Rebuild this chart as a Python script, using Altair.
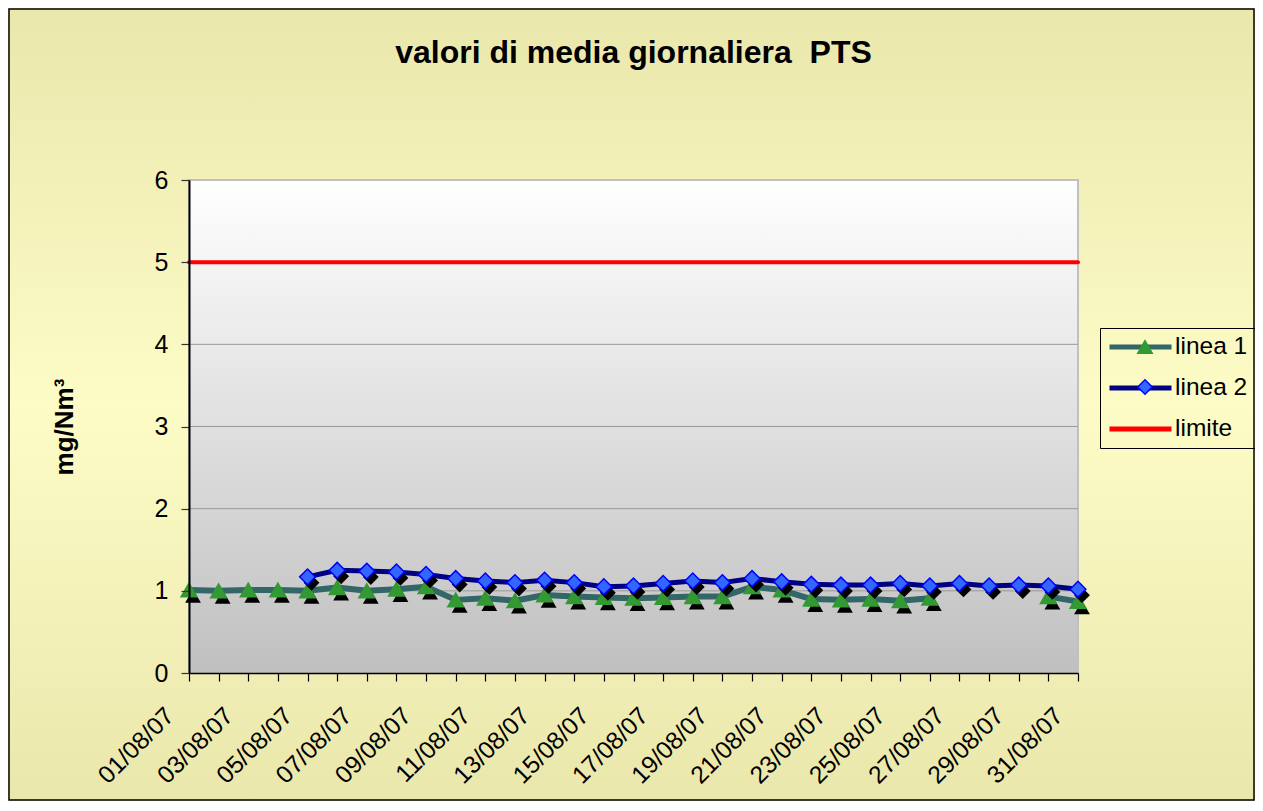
import altair as alt
import pandas as pd

FONT = "Liberation Sans"

giorni = ["01/08/07", "02/08/07", "03/08/07", "04/08/07", "05/08/07", "06/08/07",
          "07/08/07", "08/08/07", "09/08/07", "10/08/07", "11/08/07", "12/08/07",
          "13/08/07", "14/08/07", "15/08/07", "16/08/07", "17/08/07", "18/08/07",
          "19/08/07", "20/08/07", "21/08/07", "22/08/07", "23/08/07", "24/08/07",
          "25/08/07", "26/08/07", "27/08/07", "28/08/07", "29/08/07", "30/08/07",
          "31/08/07"]

linea_1 = [1.01, 1.00, 1.01, 1.01, 1.00, 1.04, 1.00, 1.02, 1.05, 0.89,
           0.91, 0.88, 0.95, 0.93, 0.92, 0.91, 0.92, 0.93, 0.93, 1.05,
           1.01, 0.90, 0.89, 0.90, 0.88, 0.91, None, None, None, 0.93, 0.87]

linea_2 = [None, None, None, None, 1.17, 1.25, 1.24, 1.23, 1.20, 1.15,
           1.12, 1.10, 1.13, 1.10, 1.05, 1.06, 1.09, 1.12, 1.10, 1.15,
           1.11, 1.08, 1.07, 1.07, 1.09, 1.06, 1.09, 1.06, 1.07, 1.06, 1.02]

limite = [5, 5, 5, 5, 5, 5, 5, 5, 5, 5, 5, 5, 5, 5, 5, 5, 5, 5, 5, 5,
          5, 5, 5, 5, 5, 5, 5, 5, 5, 5, 5]

serie_nomi = ["linea 1", "linea 2", "limite"]
serie_colori = ["#336666", "#000080", "#FF0000"]
marker_nomi = ["linea 1", "linea 2"]
marker_forme = ["triangle-up", "diamond"]
marker_fill = ["#339933", "#3366FF"]
marker_stroke = ["#339933", "#0000FF"]

y_ticks = [0, 1, 2, 3, 4, 5, 6]
griglia = [1, 2, 3, 4, 5]

rows = []
for nome, vals in zip(serie_nomi, [linea_1, linea_2, limite]):
    for g, v in zip(giorni, vals):
        rows.append({"giorno": g, "serie": nome, "valore": v})
df = pd.DataFrame(rows)
df_grid = pd.DataFrame({"valore": griglia})
df_one = pd.DataFrame({"k": [0]})

W, H = 889, 493
PL, PT, PR, PB = 181, 172, 177, 128

x_axis = alt.Axis(
    title=None, labelAngle=-45, labelAlign="right", labelBaseline="middle",
    labelFont=FONT, labelFontSize=24.5, labelColor="black", labelPadding=31,
    labelOffset=-19,
    labelExpr="toNumber(substring(datum.label, 0, 2)) % 2 == 1 ? datum.label : ''",
    tickSize=8, tickColor="black", tickWidth=1.2, domainColor="black",
    domainWidth=1.5, grid=False, zindex=1, labelOverlap=False,
)
y_axis = alt.Axis(
    title="mg/Nm\u00b3", titleFont=FONT, titleFontSize=26, titleFontWeight="bold",
    titleColor="black", titleAngle=-90, titleX=-117, titleY=H / 2,
    titleAlign="center", titleBaseline="alphabetic",
    values=y_ticks, labelFont=FONT, labelFontSize=25, labelColor="black",
    labelPadding=13, tickSize=8, tickColor="#333333", tickWidth=1.2,
    domainColor="black", domainWidth=2, grid=False, zindex=1,
)

x_scale = alt.Scale(type="point", padding=0)
y_scale = alt.Scale(domain=[0, 6], nice=False, zero=True)

X = alt.X("giorno:O", sort=giorni, scale=x_scale, axis=x_axis)
Y = alt.Y("valore:Q", scale=y_scale, axis=y_axis)

leg_lines = alt.Legend(
    title=None, orient="none", legendX=911, legendY=148,
    symbolType="stroke", symbolSize=3844, symbolStrokeWidth=5,
    labelFont=FONT, labelFontSize=24.5, labelColor="black", labelOffset=1,
    clipHeight=24, rowPadding=16, padding=7, strokeColor="black", zindex=1,
)
leg_marks = alt.Legend(
    title=None, orient="none", legendX=937, legendY=148,
    symbolSize=210, symbolStrokeWidth=1.5,
    labelFont=FONT, labelFontSize=24, labelExpr="''",
    clipHeight=24, rowPadding=16, padding=7, zindex=2,
)

COLOR = alt.Color("serie:N", scale=alt.Scale(domain=serie_nomi, range=serie_colori),
                  legend=leg_lines)
SHAPE = alt.Shape("serie:N", scale=alt.Scale(domain=marker_nomi, range=marker_forme),
                  legend=leg_marks)
FILL = alt.Fill("serie:N", scale=alt.Scale(domain=marker_nomi, range=marker_fill),
                legend=leg_marks)
STROKE = alt.Stroke("serie:N", scale=alt.Scale(domain=marker_nomi, range=marker_stroke),
                    legend=leg_marks)

outer_grad = {"gradient": "linear", "x1": 0, "y1": 0, "x2": 0, "y2": 1,
              "stops": [{"offset": 0, "color": "#EAE7AC"},
                        {"offset": 0.5, "color": "#FDFCC6"},
                        {"offset": 1, "color": "#EAE7AC"}]}
plot_grad = {"gradient": "linear", "x1": 0, "y1": 0, "x2": 0, "y2": 1,
             "stops": [{"offset": 0, "color": "#FFFFFF"},
                       {"offset": 1, "color": "#C0C0C0"}]}

outer_bg = alt.Chart(df_one).mark_rect(fill=outer_grad, strokeWidth=0).encode(
    x=alt.value(-PL), x2=alt.value(W + PR), y=alt.value(-PT), y2=alt.value(H + PB))
plot_bg = alt.Chart(df_one).mark_rect(fill=plot_grad, stroke="#C0C0C0", strokeWidth=2).encode(
    x=alt.value(0), x2=alt.value(W), y=alt.value(0), y2=alt.value(H))
grid = alt.Chart(df_grid).mark_rule(color="#999999", strokeWidth=1).encode(y=Y)

base = alt.Chart(df)
INV = "break-paths-filter-domains"
MSIZE = 250


def line_layer(nome, width):
    return base.transform_filter(alt.datum.serie == nome).mark_line(
        strokeWidth=width, strokeCap="round", strokeJoin="round", invalid=INV
    ).encode(x=X, y=Y, color=COLOR)


def shadow_layer(nome):
    return base.transform_filter(
        (alt.datum.serie == nome) & alt.expr.isValid(alt.datum.valore)
    ).mark_point(filled=True, color="black", opacity=1, size=MSIZE, xOffset=4, yOffset=6).encode(
        x=X, y=Y, shape=SHAPE)


def marker_layer(nome):
    return base.transform_filter(
        (alt.datum.serie == nome) & alt.expr.isValid(alt.datum.valore)
    ).mark_point(filled=True, opacity=1, size=MSIZE, strokeWidth=1.5).encode(
        x=X, y=Y, shape=SHAPE, fill=FILL, stroke=STROKE)


border = alt.Chart(df_one).mark_rect(fillOpacity=0, stroke="black", strokeWidth=1.5).encode(
    x=alt.value(-PL + 1), x2=alt.value(W + PR - 1), y=alt.value(-PT + 1), y2=alt.value(H + PB - 1))

chart = alt.layer(
    outer_bg, plot_bg, grid,
    line_layer("linea 1", 6), shadow_layer("linea 1"), marker_layer("linea 1"),
    line_layer("linea 2", 5), shadow_layer("linea 2"), marker_layer("linea 2"),
    line_layer("limite", 4),
    border,
).properties(
    width=W, height=H,
    padding={"left": PL, "top": PT, "right": PR, "bottom": PB},
    autosize=alt.AutoSizeParams(type="none"),
    title=alt.TitleParams(
        text="valori di media giornaliera\u00a0\u00a0PTS", font=FONT, fontSize=32,
        fontWeight="bold", color="black", anchor="middle", frame="group",
        baseline="alphabetic", offset=0, dy=87, zindex=1),
).configure_view(stroke=None).configure(background="#EEEBB2")

chart.save("out.html", embed_options={"renderer": "svg", "actions": False})
